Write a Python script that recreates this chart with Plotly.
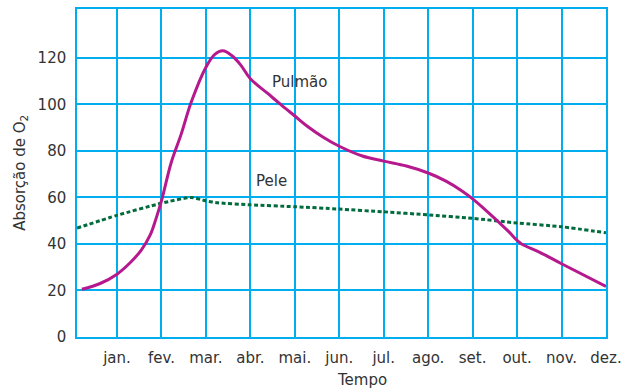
import plotly.graph_objects as go

# Month tick labels (positions 1..12 on the x axis)
months = ["jan.", "fev.", "mar.", "abr.", "mai.", "jun.",
          "jul.", "ago.", "set.", "out.", "nov.", "dez."]
month_pos = list(range(1, 13))

# Lung ("Pulmão") O2 absorption curve
pulmao_x = [0.21, 0.62, 1.0, 1.3, 1.55, 1.75, 1.88, 2.0, 2.22, 2.44, 2.67,
            3.0, 3.2, 3.38, 3.58, 3.78, 4.0, 4.39, 4.68, 5.0, 5.28,
            5.63, 6.0, 6.52, 7.0, 7.51, 8.0, 8.4, 8.76, 9.0, 9.36,
            9.8, 10.0, 10.1, 10.5, 11.0, 12.0]
pulmao_y = [20.5, 23, 27, 32, 37.5, 44, 51, 58.5, 75, 87, 101,
            116, 121.5, 123, 121, 117, 111, 104.7, 100, 95, 90.6,
            86, 82, 77.8, 75.6, 73.5, 70.5, 67, 62.8, 59.4, 53.4,
            45.5, 41.5, 40, 36.5, 31.5, 21.7]

# Skin ("Pele") O2 absorption curve
pele_x = [0.1, 1.0, 2.0, 2.67, 3.0, 3.27, 4.0, 5.0, 6.0, 7.0, 8.0, 9.0, 10.0, 11.0, 12.0]
pele_y = [46.8, 52.3, 57.5, 60, 58.5, 57.7, 56.8, 56, 55, 53.8, 52.5, 51, 49, 47.4, 44.8]

y_ticks = [0, 20, 40, 60, 80, 100, 120]

GRID = "#00AEEF"
TEXT = "#333333"
FONT = "DejaVu Sans"

fig = go.Figure()

fig.add_trace(go.Scatter(
    x=pele_x, y=pele_y, mode="lines",
    line=dict(color="#006B3C", width=3, dash="4px,2.5px", shape="spline", smoothing=0.6),
    hoverinfo="skip", showlegend=False,
))
fig.add_trace(go.Scatter(
    x=pulmao_x, y=pulmao_y, mode="lines",
    line=dict(color="#B5198D", width=3, shape="spline", smoothing=1.0),
    hoverinfo="skip", showlegend=False,
))

fig.add_annotation(x=4.45, y=109.5, text="Pulmão", showarrow=False,
                   xanchor="left", yanchor="middle",
                   font=dict(family=FONT, size=15, color=TEXT))
fig.add_annotation(x=4.08, y=67, text="Pele", showarrow=False,
                   xanchor="left", yanchor="middle",
                   font=dict(family=FONT, size=15, color=TEXT))

fig.add_annotation(x=0.539, y=-0.13, xref="paper", yref="paper",
                   text="Tempo", showarrow=False,
                   xanchor="center", yanchor="middle",
                   font=dict(family=FONT, size=15, color=TEXT))
fig.add_annotation(x=-0.108, y=0.5, xref="paper", yref="paper",
                   text="Absorção de O<sub>2</sub>", showarrow=False,
                   textangle=-90, xanchor="center", yanchor="middle",
                   font=dict(family=FONT, size=15, color=TEXT))

fig.update_layout(
    width=636, height=391,
    margin=dict(l=77, r=30, t=7, b=54),
    paper_bgcolor="white", plot_bgcolor="white",
    font=dict(family=FONT, size=15, color=TEXT),
    xaxis=dict(
        range=[0.1, 12], tickmode="array", tickvals=month_pos, ticktext=months,
        showgrid=True, gridcolor=GRID, gridwidth=1.5,
        showline=True, linecolor=GRID, linewidth=1.5, mirror=True,
        zeroline=False, ticks="", ticklabelstandoff=6,
        fixedrange=True,
    ),
    yaxis=dict(
        range=[0, 141], tickmode="array", tickvals=y_ticks,
        showgrid=True, gridcolor=GRID, gridwidth=1.5,
        showline=True, linecolor=GRID, linewidth=1.5, mirror=True,
        zeroline=False, ticks="", ticklabelstandoff=6,
        fixedrange=True,
    ),
)

fig.write_html("out.html")
